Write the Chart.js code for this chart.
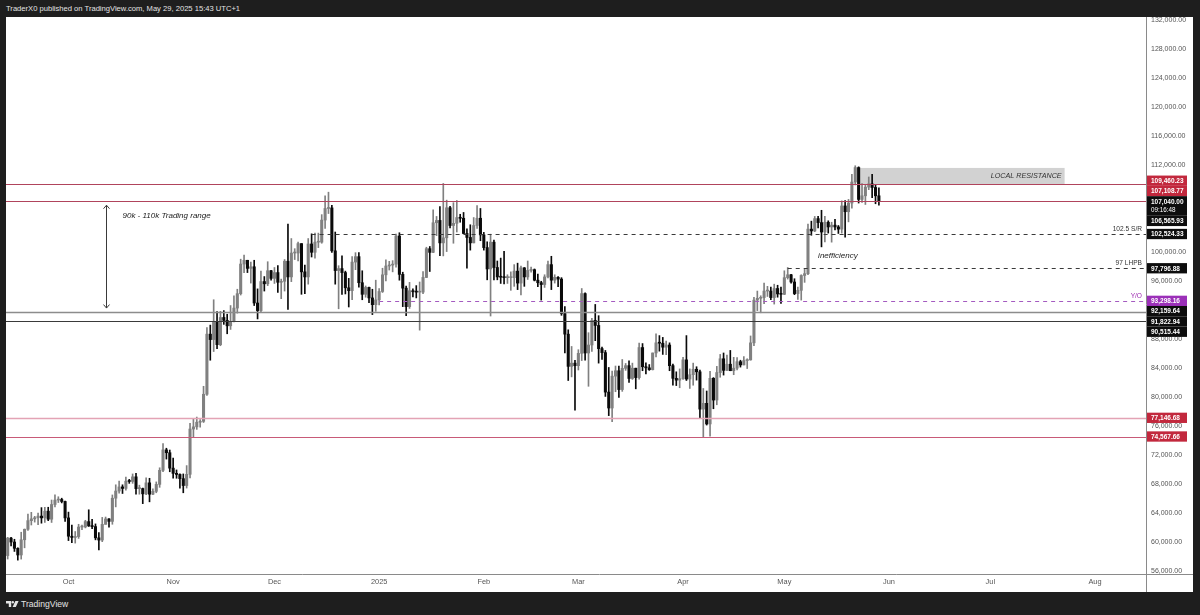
<!DOCTYPE html>
<html>
<head>
<meta charset="utf-8">
<script src="https://cdn.jsdelivr.net/npm/chart.js@4.4.1/dist/chart.umd.min.js"></script>
<style>
  html, body { margin: 0; padding: 0; width: 1200px; height: 615px; overflow: hidden; background: #1e1e1e; font-family: 'Liberation Sans', Arial, sans-serif; }
  #hdr { position: absolute; left: 6px; top: 4px; color: #e4e4e4; font-size: 7.6px; line-height: 10px; white-space: nowrap; }
  #wrap { position: absolute; left: 6px; top: 17px; width: 1187px; height: 575px; background: #fff; }
  #brand { position: absolute; left: 6px; top: 598px; height: 11px; display: flex; align-items: center; color: #e4e4e4; font-size: 8.6px; }
  #brand svg { margin-right: 2px; }
</style>
</head>
<body>
<div id="hdr">TraderX0 published on TradingView.com, May 29, 2025 15:43 UTC+1</div>
<div id="wrap"><canvas id="chart"></canvas></div>
<div id="brand"><svg width="13" height="6" viewBox="0 0 13 6"><path d="M0 0h5.2v6h-2.4v-3.6h-2.8z" fill="#e4e4e4"/><circle cx="6.8" cy="1.2" r="1.2" fill="#e4e4e4"/><path d="M9.4 0h3.2l-2.8 6h-3.2z" fill="#e4e4e4"/></svg>TradingView</div>
<script>
// BTC daily candles, one per day starting at firstDay (Sep 13 2024 .. May 29 2025)
const firstDay = '2024-09-13';
const opens = [
  58130,60540,60000,59130,58210,60310,61760,62950,63200,63350,63580,63330,64260,63150,65180,65790,65870,65600, // sep
  63330,60800,60630,60750,62070,62080,62820,62220,62130,60580,60270,62440,63190,62850,66050,67040,67610,67400,68400,68360,69000,67370,67380,66650,68170,66600,67000,67960,69900,72720,72330, // oct
  70200,69480,69330,68750,67800,69350,75600,75900,76540,76660,80400,88700,87950,90380,87250,91000,90600,89850,90460,92300,94290,98380,98900,97780,98000,93000,91950,95960,95650,97460, // nov
  96400,97200,95860,96000,98770,96600,99900,99900,101200,97300,96600,101150,100000,101400,101400,104450,106050,106130,100200,97480,97750,97200,95100,94700,98650,99400,95800,94200,95150,93700,92770, // dec
  93430,94590,96890,98110,98230,98360,102250,96950,95050,92500,94700,94550,94500,94500,96530,100500,99990,104080,104400,101300,102000,106150,103700,104000,104800,104700,102600,102050,101300,103700,104700, // jan
  102400,100650,97700,101400,97900,96600,96560,96500,96500,96500,97400,95750,97850,96600,97500,97600,96150,95800,95550,96600,98300,96150,96550,96300,91550,88700,84250,84700, // feb
  84350,86050,94300,86100,87200,90600,89900,86700,86150,80700,78500,82900,83650,81050,83980,84350,82580,84000,82700,86850,84200,84050,83800,86100,87500,87450,86900,87200,84350,82600,82350, // mar
  82550,85150,82500,83100,83850,83500,78350,79150,76300,82600,79600,83400,85300,83700,84550,83650,84000,84900,84450,85050,85150,87500,93400,93650,93750,94650,94650,93750,95000,94250, // apr
  94200,96500,96900,95900,94300,94750,96800,97050,103200,102950,104650,104100,102800,104150,103500,103750,103500,103200,106400,105600,106800,109700,111700,107300,107800,109000,109450,108950,107800 // may
];
const highs = [
  60650,60660,60380,59210,61350,61800,63850,64100,63550,64000,64750,64800,64800,65800,66500,66250,66050,65650,
  64130,62350,61450,62450,62350,63000,64450,63150,62500,61300,63400,63450,63250,66500,67900,68400,67900,68950,68650,69400,69500,67850,67450,68850,68800,67350,68300,70250,73600,72950,72700,
  71600,69950,69400,69400,70550,76400,76950,77250,76900,81500,89600,89950,93450,91800,91850,91950,91450,92650,94000,94900,99050,99600,98900,98650,98900,94950,97400,96650,98700,97500,
  97900,98150,96300,99000,103900,101900,100500,101400,101200,98250,101900,102550,102650,102650,105200,107800,108300,106500,102800,98150,99500,97400,96400,99400,99950,99950,97450,95350,95200,94900,96150,
  95000,97800,98950,98750,98850,102500,102700,97250,95350,95850,94950,95400,95900,97350,100700,100800,105850,104950,106300,109500,107200,106350,106850,107150,105250,105500,103250,103800,104800,106450,106050,
  102750,101450,102500,101700,98800,99200,100150,96900,97300,98300,98500,98100,97900,98800,97950,97700,97000,96000,96900,98800,99450,96900,96650,96500,92500,89300,87000,85100,
  86550,95000,94400,88900,90900,92800,91250,86900,86450,84100,83600,84300,84300,85200,84650,85000,84700,84000,87450,87400,84750,84500,86100,88750,88500,88250,87750,87500,84550,83500,83900,
  85500,88500,83900,84700,84200,83750,81200,80850,83550,82700,84250,85900,86100,85800,86450,85500,85450,85100,85600,85300,88450,93800,94650,94000,95750,95300,95200,95600,95450,95200,
  97450,97900,96950,96350,95200,96900,97700,103900,104300,104950,104950,105800,104950,104350,104150,104550,103700,107100,107150,107300,110750,111950,111800,109500,109300,110400,110750,109300,108900
];
const lows = [
  57650,59460,58700,57500,57640,59200,61600,62350,62750,62400,62600,62700,62950,62700,64850,65450,65400,62850,
  60200,59900,59850,60500,61700,61950,62150,61850,60300,58900,60050,62450,62050,62450,64850,66750,66700,67150,68100,68100,66600,66600,65300,66550,65550,66550,66800,67550,69700,71450,69700,
  68800,68800,67450,66800,67450,68850,74450,75550,75850,76500,80250,85100,86300,86700,87100,90050,88750,89350,90400,91600,94100,97200,97200,95750,92650,90800,91800,94650,95400,96150,
  95700,94450,93600,94650,92100,95950,99000,98800,94200,94300,95600,99350,99200,100650,101250,103300,105350,100000,95600,92200,94200,94250,92450,93450,97600,95200,93450,93800,93050,91400,91850,
  92750,94450,96050,97550,97300,97950,96150,92500,91250,92250,93850,93700,89250,94300,96500,97350,99950,102300,99550,99500,100100,103350,101250,102800,104150,102550,97800,100300,101300,103300,101600,
  100300,96200,91200,96200,96200,95700,95650,95700,94750,95300,94850,94100,95300,96250,97250,96050,95250,93400,95150,96450,94850,95750,95250,91300,86100,82300,82800,78200,
  83750,85050,85100,81500,86300,87800,84700,85200,80100,77450,76600,80750,79950,80800,83700,82050,82450,81150,82500,83650,83200,83700,83750,85550,86350,85900,85850,83650,81650,81600,81300,
  82450,82300,81200,81650,82350,77150,74500,76150,74600,78400,78950,82750,83050,83700,83650,83100,83750,84150,84450,83950,85100,87100,91950,91650,92900,93900,93450,92850,93800,92950,
  94150,96300,95750,94150,93500,93400,95850,96900,102350,102850,103350,100750,101450,102650,101400,103100,102600,102650,102100,104200,106100,109300,106800,106900,106600,108650,107550,106700,106500
];
const closes = [
  60540,60000,59130,58210,60310,61760,62950,63200,63350,63580,63330,64260,63150,65180,65790,65870,65600,63330,
  60800,60630,60750,62070,62080,62820,62220,62130,60580,60270,62440,63190,62850,66050,67040,67610,67400,68400,68360,69000,67370,67380,66650,68170,66600,67000,67960,69900,72720,72330,70200,
  69480,69330,68750,67800,69350,75600,75900,76540,76660,80400,88700,87950,90380,87250,91000,90600,89850,90460,92300,94290,98380,98900,97780,98000,93000,91950,95960,95650,97460,96400,
  97200,95860,96000,98770,96600,99900,99900,101200,97300,96600,101150,100000,101400,101400,104450,106050,106130,100200,97480,97750,97200,95100,94700,98650,99400,95800,94200,95150,93700,92770,93430,
  94590,96890,98110,98230,98360,102250,96950,95050,92500,94700,94550,94500,94500,96530,100500,99990,104080,104400,101300,102000,106150,103700,104000,104800,104700,102600,102050,101300,103700,104700,102400,
  100650,97700,101400,97900,96600,96560,96500,96500,96500,97400,95750,97850,96600,97500,97600,96150,95800,95550,96600,98300,96150,96550,96300,91550,88700,84250,84700,84350,
  86050,94300,86100,87200,90600,89900,86700,86150,80700,78500,82900,83650,81050,83980,84350,82580,84000,82700,86850,84200,84050,83800,86100,87500,87450,86900,87200,84350,82600,82350,82550,
  85150,82500,83100,83850,83500,78350,79150,76300,82600,79600,83400,85300,83700,84550,83650,84000,84900,84450,85050,85150,87500,93400,93650,93750,94650,94650,93750,95000,94250,94200,
  96500,96900,95900,94300,94750,96800,97050,103200,102950,104650,104100,102800,104150,103500,103750,103500,103200,106400,105600,106800,109700,111700,107300,107800,109000,109450,108950,107800,107040
];

const monthStarts = ['2024-10-01','2024-11-01','2024-12-01','2025-01-01','2025-02-01','2025-03-01','2025-04-01','2025-05-01','2025-06-01','2025-07-01','2025-08-01'];
const monthLabels = ['Oct','Nov','Dec','2025','Feb','Mar','Apr','May','Jun','Jul','Aug'];
const priceTicks = [56000, 60000, 64000, 68000, 72000, 76000, 80000, 84000, 88000, 92000, 96000, 100000,
                    104000, 108000, 112000, 116000, 120000, 124000, 128000, 132000];

// horizontal levels drawn on the chart
const levelPrices = [109460.23, 107108.77, 102524.33, 97796.88, 93298.16, 91822.94, 90515.44, 77146.68, 74567.66];
const levelStarts = [null, null, '2024-12-12', '2025-05-02', '2025-01-01', null, null, null, null];
const levelNames  = ['', '', '102.5 S/R', '97 LHPB', 'Y/O', '', '', '', ''];

// price tags on the right axis
const tagPrices = [109460.23, 107108.77, 107040.00, 106565.93, 102524.33, 97796.88, 93298.16, 92159.64, 91822.94, 90515.44, 77146.68, 74567.66];
const countdown = '09:16:48';

const zoneDates  = ['2025-05-23', '2025-07-23'];
const zonePrices = [109300, 111650];
const zoneLabel  = 'LOCAL RESISTANCE';
const rangeArrowDate   = '2024-10-12';
const rangeArrowPrices = [92300, 106500];
const rangeLabel = '90k - 110k Trading range';
const noteLabel  = 'inefficiency';

const dayOf = s => Math.round((Date.parse(s) - Date.parse('2025-01-01')) / 86400000);
const d0 = dayOf(firstDay);
const fmt = v => v.toLocaleString('en-US', {minimumFractionDigits: 2, maximumFractionDigits: 2});

const UP = '#808080', DOWN = '#0a0a0a';
const candleColors = closes.map((c, i) => c >= opens[i] ? UP : DOWN);
const bodies = opens.map((o, i) => ({x: d0 + i, y: [o, closes[i]]}));
const wicks  = lows.map((l, i) => ({x: d0 + i, y: [l, highs[i]]}));

// styling for levels (same order as levelPrices)
const levelStyle = [
  {c: '#b0445c', w: 1},
  {c: '#b0445c', w: 1},
  {c: '#3a3a3a', w: 1, d: [4, 4], t: '#333'},
  {c: '#3a3a3a', w: 1, d: [4, 4], t: '#333'},
  {c: '#a45bc0', w: 1, d: [4, 4], t: '#9c27b0'},
  {c: '#8c8c8c', w: 1.6},
  {c: '#3a3a3a', w: 1},
  {c: '#e3a3b5', w: 1.5},
  {c: '#c85a78', w: 1.2}
];
const RED = '#c2283d', BLK = '#0d0d0d', PUR = '#9b30b8';
const tagColors = [RED, RED, BLK, BLK, BLK, BLK, PUR, BLK, BLK, BLK, RED, RED];
const notes = [
  {text: rangeLabel, date: '2024-10-17', price: 105000, font: 'italic 8px "Liberation Sans"'},
  {text: noteLabel, date: '2025-05-11', price: 99500, font: 'italic 8px "Liberation Sans"'}
];

const overlay = {
  id: 'overlay',
  beforeDatasetsDraw(chart) {
    const {ctx, scales: {x, y}} = chart;
    const x0 = x.getPixelForValue(dayOf(zoneDates[0])), x1 = x.getPixelForValue(dayOf(zoneDates[1]));
    const yTop = y.getPixelForValue(zonePrices[1]), yBot = y.getPixelForValue(zonePrices[0]);
    ctx.save();
    ctx.fillStyle = '#d2d2d2';
    ctx.fillRect(x0, yTop, x1 - x0, yBot - yTop);
    ctx.fillStyle = '#333';
    ctx.font = 'italic 7.2px "Liberation Sans"';
    ctx.textAlign = 'right';
    ctx.textBaseline = 'middle';
    ctx.fillText(zoneLabel, x1 - 3, (yTop + yBot) / 2);
    ctx.restore();
  },
  afterDatasetsDraw(chart) {
    const {ctx, chartArea: a, scales: {x, y}} = chart;
    ctx.save();
    ctx.beginPath();
    ctx.rect(a.left, a.top, a.right - a.left, a.bottom - a.top);
    ctx.clip();
    levelPrices.forEach((p, i) => {
      const s = levelStyle[i];
      const py = Math.round(y.getPixelForValue(p)) + 0.5;
      const px = levelStarts[i] ? x.getPixelForValue(dayOf(levelStarts[i])) : a.left;
      ctx.strokeStyle = s.c;
      ctx.lineWidth = s.w;
      ctx.setLineDash(s.d || []);
      ctx.beginPath();
      ctx.moveTo(px, py);
      ctx.lineTo(a.right, py);
      ctx.stroke();
      if (levelNames[i]) {
        ctx.fillStyle = s.t;
        ctx.font = '6.6px "Liberation Sans"';
        ctx.textAlign = 'right';
        ctx.textBaseline = 'bottom';
        ctx.fillText(levelNames[i], a.right - 4, py - 2);
      }
    });
    ctx.setLineDash([]);
    // trading range arrow
    const ax = Math.round(x.getPixelForValue(dayOf(rangeArrowDate))) + 0.5;
    const ay0 = y.getPixelForValue(rangeArrowPrices[1]), ay1 = y.getPixelForValue(rangeArrowPrices[0]);
    ctx.strokeStyle = '#3a3a3a';
    ctx.lineWidth = 1;
    ctx.beginPath();
    ctx.moveTo(ax, ay0); ctx.lineTo(ax, ay1);
    ctx.moveTo(ax - 3, ay0 + 3.5); ctx.lineTo(ax, ay0); ctx.lineTo(ax + 3, ay0 + 3.5);
    ctx.moveTo(ax - 3, ay1 - 3.5); ctx.lineTo(ax, ay1); ctx.lineTo(ax + 3, ay1 - 3.5);
    ctx.stroke();
    notes.forEach(n => {
      ctx.fillStyle = '#222';
      ctx.font = n.font;
      ctx.textAlign = 'left';
      ctx.textBaseline = 'middle';
      ctx.fillText(n.text, x.getPixelForValue(dayOf(n.date)), y.getPixelForValue(n.price));
    });
    ctx.restore();
  },
  afterDraw(chart) {
    const {ctx, chartArea: a, scales: {y}, width, height} = chart;
    ctx.save();
    ctx.fillStyle = '#fff';
    ctx.fillRect(a.right, a.bottom, width - a.right, height - a.bottom);
    ctx.strokeStyle = '#8a8a8a';
    ctx.lineWidth = 1;
    ctx.beginPath();
    ctx.moveTo(0, a.bottom + 0.5); ctx.lineTo(width, a.bottom + 0.5);
    ctx.moveTo(a.right + 0.5, 0); ctx.lineTo(a.right + 0.5, height);
    ctx.stroke();

    // price tags, stacked so they do not overlap (current price stays put)
    const H = 10.3;
    const cur = tagPrices.indexOf(closes[closes.length - 1]);
    const tags = tagPrices.map((p, i) => {
      const c = y.getPixelForValue(p);
      const h = i === cur ? 2 * H - 1 : H;
      return {p, i, top: c - H / 2, h};
    });
    for (let i = cur - 1; i >= 0; i--) {
      const lim = tags[i + 1].top;
      if (tags[i].top + tags[i].h > lim) tags[i].top = lim - tags[i].h;
    }
    for (let i = cur + 1; i < tags.length; i++) {
      const lim = tags[i - 1].top + tags[i - 1].h;
      if (tags[i].top < lim) tags[i].top = lim;
    }
    ctx.font = 'bold 6.5px "Liberation Sans"';
    ctx.textAlign = 'left';
    ctx.textBaseline = 'middle';
    tags.forEach(t => {
      ctx.fillStyle = tagColors[t.i];
      ctx.fillRect(a.right + 1, t.top, 40, t.h);
      ctx.fillStyle = '#fff';
      ctx.fillText(fmt(t.p), a.right + 5, t.top + H / 2 + 0.5);
      if (t.i === cur) {
        ctx.font = '6.3px "Liberation Sans"';
        ctx.fillText(countdown, a.right + 5, t.top + H / 2 + 9.3);
        ctx.font = 'bold 6.5px "Liberation Sans"';
      }
    });
    ctx.restore();
  }
};

Chart.defaults.font.family = '"Liberation Sans", Arial, sans-serif';

new Chart(document.getElementById('chart').getContext('2d'), {
  type: 'bar',
  data: {
    datasets: [{
      label: 'body',
      data: bodies,
      backgroundColor: candleColors,
      barThickness: 2.4,
      minBarLength: 1,
      grouped: false,
      order: 0
    }, {
      label: 'wick',
      data: wicks,
      backgroundColor: candleColors,
      barThickness: 1,
      grouped: false,
      order: 1
    }]
  },
  options: {
    responsive: true,
    maintainAspectRatio: false,
    animation: false,
    layout: {padding: 0},
    plugins: {legend: {display: false}, tooltip: {enabled: false}},
    scales: {
      x: {
        type: 'linear',
        offset: false,
        min: -110.5,
        max: 227.1,
        grid: {display: false, drawTicks: false},
        border: {display: false},
        afterBuildTicks: s => { s.ticks = monthStarts.map(m => ({value: dayOf(m)})); },
        afterFit: s => { s.height = 18; s.paddingLeft = 0; s.paddingRight = 0; },
        ticks: {
          autoSkip: false,
          maxRotation: 0,
          padding: 4,
          color: '#555',
          font: {size: 7.4},
          callback: v => monthLabels[monthStarts.findIndex(m => dayOf(m) === v)]
        }
      },
      y: {
        position: 'right',
        min: 55585,
        max: 132486,
        grid: {display: false, drawTicks: false},
        border: {display: false},
        afterBuildTicks: s => { s.ticks = priceTicks.map(v => ({value: v})); },
        afterFit: s => { s.width = 47; s.paddingTop = 0; s.paddingBottom = 0; },
        ticks: {
          autoSkip: false,
          padding: 5,
          color: '#555',
          font: {size: 7},
          callback: v => fmt(v)
        }
      }
    }
  },
  plugins: [overlay]
});
</script>
</body>
</html>
